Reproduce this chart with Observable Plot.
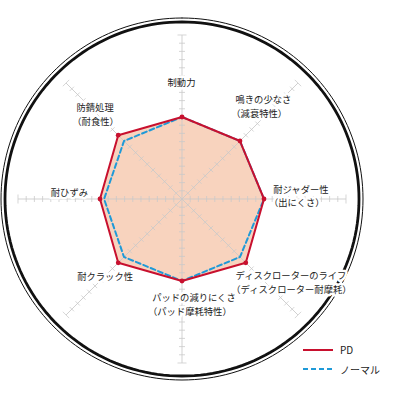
<!DOCTYPE html>
<html>
<head>
<meta charset="utf-8">
<script src="https://cdn.jsdelivr.net/npm/d3@7"></script>
<script src="https://cdn.jsdelivr.net/npm/@observablehq/plot@0.6"></script>
<style>
  html, body { margin: 0; padding: 0; background: #fff; }
  #wrap { position: relative; width: 400px; height: 400px; font-family: "Noto Sans CJK JP", "Noto Sans", sans-serif; }
  #legend { position: absolute; left: 303px; top: 340px; font-size: 10px; color: #222; }
  #legend .row { display: flex; align-items: center; height: 19.5px; }
  #legend svg { margin-right: 7px; }
</style>
</head>
<body>
<div id="wrap"></div>
<script>
// ---- data ----
const categories = [
  "制動力",
  "鳴きの少なさ\n（減衰特性）",
  "耐ジャダー性\n（出にくさ）",
  "ディスクローターのライフ\n（ディスクローター耐摩耗）",
  "パッドの減りにくさ\n（パッド摩耗特性）",
  "耐クラック性",
  "耐ひずみ",
  "防錆処理\n（耐食性）"
];
const seriesNames = ["PD", "ノーマル"];
const pdValues = [5, 5, 5, 5.5, 5, 5.5, 5, 5.5];
const normalValues = [5, 5, 5, 5, 5, 5, 4.75, 5];
const maxValue = 10;
const tickStep = 0.5;

// ---- layout (pixels) ----
const W = 400, H = 400;
const CX = 181.5, CY = 198.5;   // chart centre
const PX = 16.4;                 // pixels per value unit
const FS = 9.3;                  // label font size
const LH = 13.5;                 // label line spacing
const labelLayout = [
  {dx: -0.5, dy: -115.5, anchor: "middle"},
  {dx: 53.5, dy: -92, anchor: "start"},
  {dx: 91.2, dy: -2.5, anchor: "start"},
  {dx: 53.5, dy: 84, anchor: "start"},
  {dx: -29.8, dy: 106, anchor: "start"},
  {dx: -104.8, dy: 78.2, anchor: "start"},
  {dx: -94, dy: -5.8, anchor: "end"},
  {dx: -105.5, dy: -84, anchor: "start"}
];
const RED = "#c8102e", BLUE = "#1f9ad8", FILL = "#f8d3be", GRID = "#c9c9c9", TEXT = "#222";

const n = categories.length;
const ang = i => i * 2 * Math.PI / n;
const pt = (v, i) => ({x: v * Math.sin(ang(i)), y: v * Math.cos(ang(i))});

const pdPts = pdValues.map((v, i) => ({...pt(v, i), series: seriesNames[0]}));
const nmPts = normalValues.map((v, i) => ({...pt(v, i), series: seriesNames[1]}));
const closed = a => [...a, a[0]];

const axes = categories.map((c, i) => ({x1: 0, y1: 0, x2: pt(maxValue, i).x, y2: pt(maxValue, i).y}));
const ticks = [];
const h = 3 / PX;
categories.forEach((c, i) => {
  const a = ang(i);
  for (let t = tickStep; t <= maxValue + 1e-9; t += tickStep) {
    const p = pt(t, i);
    const hh = Math.abs(t - maxValue) < 1e-9 ? h * 1.5 : h;
    ticks.push({x1: p.x + hh * Math.cos(a), y1: p.y - hh * Math.sin(a), x2: p.x - hh * Math.cos(a), y2: p.y + hh * Math.sin(a)});
  }
});
const circle = r => d3.range(0, 361, 2).map(d => ({x: r * Math.sin(d * Math.PI / 180), y: r * Math.cos(d * Math.PI / 180)}));

// one text entry per label line
const labelLines = [];
categories.forEach((c, i) => {
  const lines = c.split("\n");
  const L = labelLayout[i];
  lines.forEach((s, j) => {
    const offY = (j - (lines.length - 1) / 2) * LH;
    const shiftX = (s.startsWith("（") && L.anchor === "start") ? -0.45 * FS : 0;
    labelLines.push({text: s, x: (L.dx + shiftX) / PX, y: -(L.dy + offY) / PX, anchor: L.anchor});
  });
});

const chart = Plot.plot({
  width: W, height: H, margin: 0,
  x: {domain: [-CX / PX, (W - CX) / PX], axis: null},
  y: {domain: [-(H - CY) / PX, CY / PX], axis: null},
  style: {fontFamily: '"Noto Sans CJK JP", sans-serif', background: "#fff"},
  marks: [
    Plot.line(circle(181 / PX), {x: "x", y: "y", stroke: "#111", strokeWidth: 1}),
    Plot.line(circle(177 / PX), {x: "x", y: "y", stroke: "#111", strokeWidth: 2.8}),
    Plot.line(closed(pdPts), {x: "x", y: "y", fill: FILL, stroke: "none"}),
    Plot.link(axes, {x1: "x1", y1: "y1", x2: "x2", y2: "y2", stroke: GRID, strokeWidth: 1, strokeOpacity: 0.85}),
    Plot.link(ticks, {x1: "x1", y1: "y1", x2: "x2", y2: "y2", stroke: GRID, strokeWidth: 0.9, strokeOpacity: 0.85}),
    ...["start", "middle", "end"].map(anchor =>
      Plot.text(labelLines.filter(d => d.anchor === anchor), {
        x: "x", y: "y", text: "text", textAnchor: anchor, lineAnchor: "middle",
        fontSize: FS, fill: TEXT, stroke: "white", strokeWidth: 5
      })),
    Plot.line(closed(nmPts), {x: "x", y: "y", stroke: BLUE, strokeWidth: 2, strokeDasharray: "5,3"}),
    Plot.line(closed(pdPts), {x: "x", y: "y", stroke: RED, strokeWidth: 2}),
    Plot.dot(pdPts, {x: "x", y: "y", r: 2.4, fill: RED, stroke: "none"})
  ]
});

const wrap = document.getElementById("wrap");
wrap.appendChild(chart);
const legend = document.createElement("div");
legend.id = "legend";
legend.innerHTML = `
  <div class="row"><svg width="30" height="4"><line x1="0" y1="2" x2="30" y2="2" stroke="${RED}" stroke-width="2"/></svg><span>${seriesNames[0]}</span></div>
  <div class="row"><svg width="30" height="4"><line x1="0" y1="2" x2="30" y2="2" stroke="${BLUE}" stroke-width="2" stroke-dasharray="5,3"/></svg><span>${seriesNames[1]}</span></div>`;
wrap.appendChild(legend);
</script>
</body>
</html>
